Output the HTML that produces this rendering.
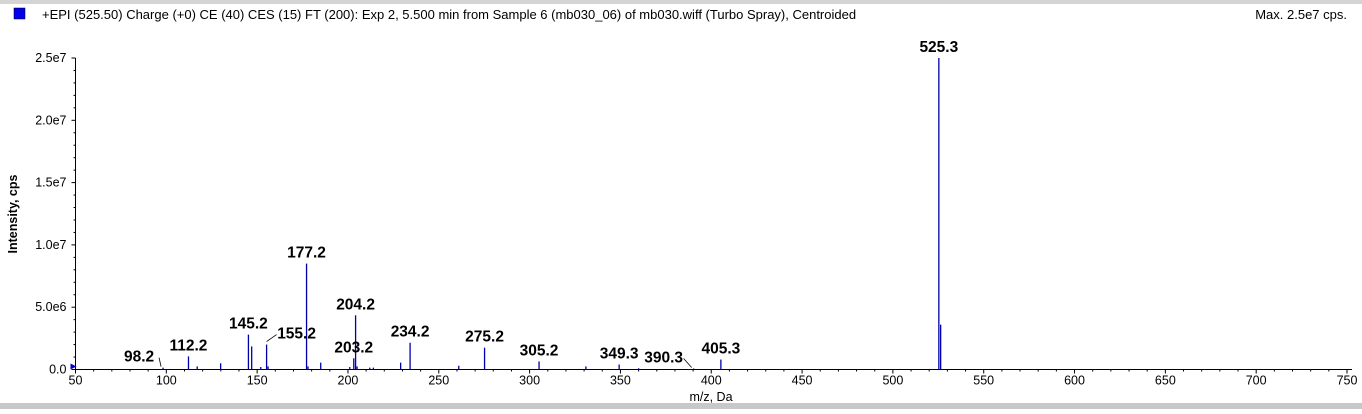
<!DOCTYPE html>
<html><head><meta charset="utf-8"><style>
html,body{margin:0;padding:0;background:#fff;}
body{width:1362px;height:409px;overflow:hidden;position:relative;font-family:"Liberation Sans",Arial,sans-serif;}
</style></head><body>
<svg id="chart" width="1362" height="409" xmlns="http://www.w3.org/2000/svg" font-family="Liberation Sans, Arial, sans-serif">
<rect x="0" y="0" width="1362" height="4" fill="#d4d4d4"/>
<rect x="0" y="403" width="1362" height="6" fill="#c8c8c8"/>
<rect x="14" y="8" width="11" height="11" fill="#0000ee" stroke="#000" stroke-width="0.5"/>
<text x="42" y="19" font-size="13" fill="#000">+EPI (525.50) Charge (+0) CE (40) CES (15) FT (200): Exp 2, 5.500 min from Sample 6 (mb030_06) of mb030.wiff (Turbo Spray), Centroided</text>
<text x="1347" y="19" font-size="13" text-anchor="end">Max. 2.5e7 cps.</text>
<text transform="translate(17,214) rotate(-90)" font-size="12.5" font-weight="bold" text-anchor="middle">Intensity, cps</text>
<text x="711" y="401" font-size="12.5" text-anchor="middle">m/z, Da</text>
<g id="axes"></g>
<g id="marks"></g>
<g id="labels"></g>
</svg>
<script>
const mzValues=[98.2,112.2,117,129.9,145.2,147,152,155.2,156,177.2,178,185,201,203.2,204.2,205,212,214,229,234.2,261,275.2,305.2,331,349.3,360,390.3,405.3,525.3,526.3];
const intensities=[0.15e6,1.05e6,0.25e6,0.5e6,2.8e6,1.85e6,0.2e6,2.0e6,0.25e6,8.5e6,0.25e6,0.55e6,0.2e6,0.9e6,4.35e6,0.25e6,0.15e6,0.15e6,0.55e6,2.15e6,0.3e6,1.75e6,0.65e6,0.25e6,0.4e6,0.1e6,0.08e6,0.8e6,2.5e7,3.6e6];
const labelTexts=["98.2","112.2","145.2","155.2","177.2","203.2","204.2","234.2","275.2","305.2","349.3","390.3","405.3","525.3"];
const labelMz=[98.2,112.2,145.2,155.2,177.2,203.2,204.2,234.2,275.2,305.2,349.3,390.3,405.3,525.3];
const labelInt=[0.15e6,1.05e6,2.8e6,2.0e6,8.5e6,0.9e6,4.35e6,2.15e6,1.75e6,0.65e6,0.4e6,0.08e6,0.8e6,2.5e7];
const xTicks=[50,100,150,200,250,300,350,400,450,500,550,600,650,700,750];
const yTicks=[0,5e6,1e7,1.5e7,2e7,2.5e7];
const yTickLabels=["0.0","5.0e6","1.0e7","1.5e7","2.0e7","2.5e7"];

const X0=75.5,X1=1347,Y0=369.5,Y1=58;
const xS=v=>X0+(v-50)/(750-50)*(X1-X0);
const yS=v=>Y0-v/2.5e7*(Y0-Y1);
const NS="http://www.w3.org/2000/svg";
function mk(tag,attrs,parent){const e=document.createElementNS(NS,tag);for(const k in attrs)e.setAttribute(k,attrs[k]);parent.appendChild(e);return e;}
const axes=document.getElementById('axes'),marks=document.getElementById('marks'),labels=document.getElementById('labels');

let a=mk('line',{x1:X0,y1:Y0,x2:1352,y2:Y0,stroke:'#000'},axes);


a=mk('line',{x1:X0,y1:Y0,x2:X0,y2:Y1,stroke:'#000'},axes);


for(let v=50;v<=750;v+=10){const big=v%50===0;const t=mk('line',{x1:xS(v),y1:Y0,x2:xS(v),y2:Y0+(big?4:2),stroke:'#000'},axes);

}
xTicks.forEach(v=>{const t=mk('text',{x:xS(v),y:Y0+15,'font-size':12.5,'text-anchor':'middle'},axes);t.textContent=v;

});
for(let v=0;v<=2.5e7;v+=1e6){const big=v%5e6===0;const t=mk('line',{x1:X0,y1:yS(v),x2:X0-(big?4:2),y2:yS(v),stroke:'#000'},axes);

}
yTicks.forEach((v,i)=>{const t=mk('text',{x:X0-9,y:yS(v)+4,'font-size':12.5,'text-anchor':'end'},axes);t.textContent=yTickLabels[i];

});
const tri=mk('polygon',{points:`${X0-5},${Y0-6} ${X0+1},${Y0-3} ${X0-5},${Y0}`,fill:'#0000cc'},axes);



mzValues.forEach((m,i)=>{const l=mk('line',{x1:xS(m),y1:Y0,x2:xS(m),y2:yS(intensities[i]),stroke:'#0000aa','stroke-width':1.3},marks);

});

const lblDx={"98.2":-24,"155.2":30,"390.3":-30};
labelTexts.forEach((s,i)=>{
  const px=xS(labelMz[i]),py=yS(labelInt[i]);
  const dx=lblDx[s]||0;
  const t=mk('text',{x:px+dx,y:py-6,'font-size':15.5,'font-weight':'bold','text-anchor':'middle',fill:'#000'},labels);
  t.textContent=s;
  
  
  if(dx>20||dx<-20){const ld=mk('line',{x1:px+(dx>0?0:-2),y1:py-(dx>0?3:1),x2:px+dx+(dx>0?-20:20),y2:py-10,stroke:'#000','stroke-width':0.8},labels);
  
  }
});
</script>
</body></html>
